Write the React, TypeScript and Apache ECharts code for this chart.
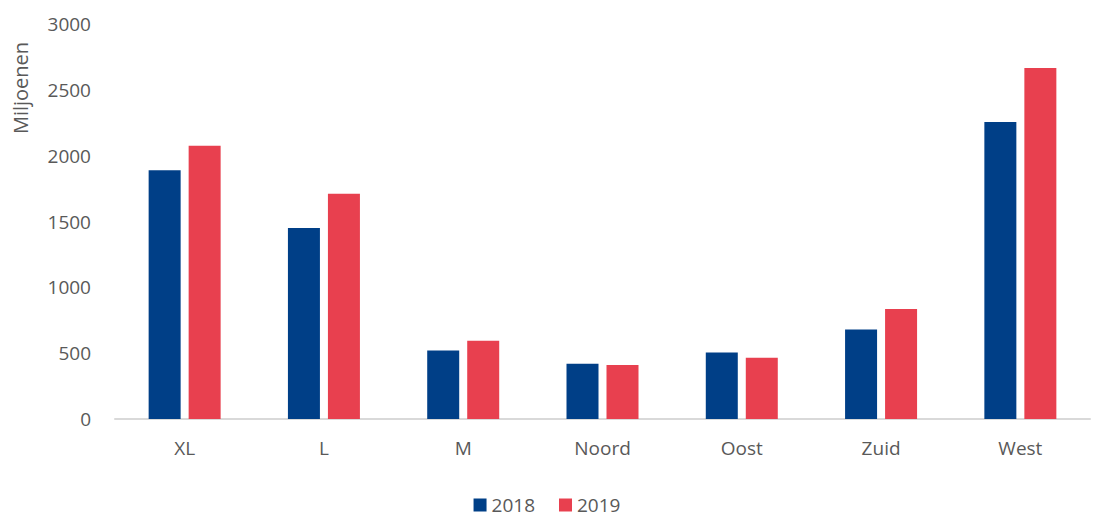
import React, { useEffect, useRef } from "react";
import * as echarts from "echarts";

const categories = ["XL", "L", "M", "Noord", "Oost", "Zuid", "West"];
const values2018 = [1890, 1450, 520, 420, 505, 680, 2255];
const values2019 = [2075, 1710, 595, 410, 465, 835, 2665];
const seriesNames = ["2018", "2019"];
const colors = ["#003F87", "#E8404F"];
const yAxisTitle = "Miljoenen";

export default function App() {
  const ref = useRef<HTMLDivElement>(null);
  useEffect(() => {
    if (!ref.current) return;
    const chart = echarts.init(ref.current, null, { renderer: "svg" });
    const font = "'Open Sans', 'Noto Sans', sans-serif";
    chart.setOption({
      animation: false,
      textStyle: { fontFamily: font },
      grid: { left: 115, right: 4, top: 24, bottom: 100, containLabel: false },
      legend: {
        top: 495,
        left: "center",
        padding: 0,
        itemWidth: 13,
        itemHeight: 13,
        itemGap: 24,
        icon: "rect",
        textStyle: { fontSize: 19, color: "#595959", fontFamily: font, lineHeight: 20 },
        data: seriesNames,
      },
      graphic: [
        {
          type: "text",
          x: 20,
          y: 88,
          rotation: Math.PI / 2,
          style: { text: yAxisTitle, fontSize: 20, fill: "#595959", fontFamily: font, align: "center", verticalAlign: "middle" },
        },
      ],
      xAxis: {
        type: "category",
        data: categories,
        axisLine: { lineStyle: { color: "#D9D9D9", width: 2 } },
        axisTick: { show: false },
        axisLabel: { fontSize: 19, color: "#595959", margin: 19, fontFamily: font },
      },
      yAxis: {
        type: "value",
        min: 0,
        max: 3000,
        interval: 500,
        splitLine: { show: false },
        axisLine: { show: false },
        axisTick: { show: false },
        axisLabel: { fontSize: 19, color: "#595959", margin: 24, fontFamily: font, formatter: (v: number) => String(v) },
      },
      series: [
        { name: seriesNames[0], type: "bar", data: values2018, barWidth: 32, barGap: "25%", itemStyle: { color: colors[0] } },
        { name: seriesNames[1], type: "bar", data: values2019, barWidth: 32, barGap: "25%", itemStyle: { color: colors[1] } },
      ],
    });
    return () => chart.dispose();
  }, []);
  return <div ref={ref} style={{ width: 1094, height: 519, position: "absolute", left: 0, top: 0 }} />;
}
